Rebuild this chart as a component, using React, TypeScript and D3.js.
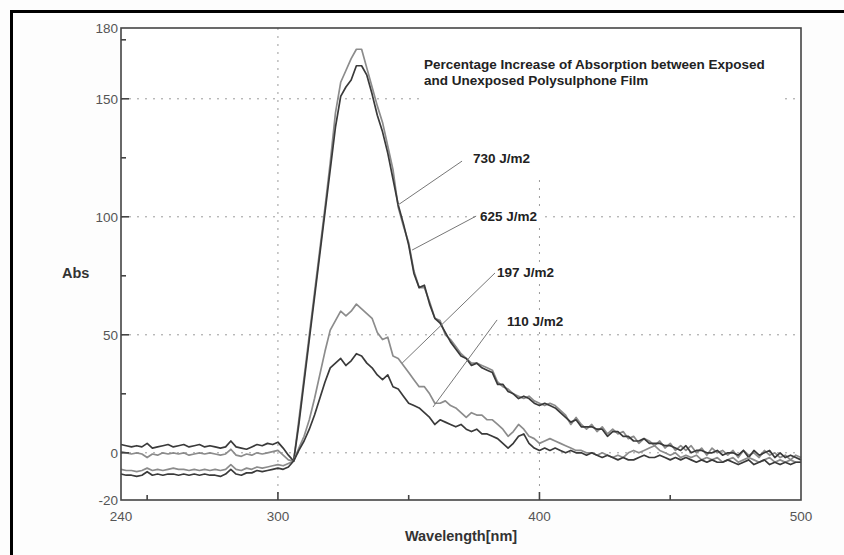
import React from "react";
import * as d3 from "d3";

// ---- data ----
const wavelengths: number[] = d3.range(240, 501, 2); // 131 points, 2 nm step

const series730: number[] = [
  0.5, 0, -0.5, 0, -0.5, -2, -0.5, -1, 0, -0.5, // 240-258
  0, -0.5, 0, -1, -0.5, 0, -0.5, 0, -0.5, -1, // 260-278
  -0.5, 1.5, -1, -1.5, -0.5, -1, 0, -0.5, 0, 0.5, // 280-298
  1, -1, -3, -3.5, 14, 32, 50, 68, 86, 104, // 300-318
  123, 144, 157, 162, 167, 171, 171, 163, 155, 147, // 320-338
  140, 130, 120, 104, 96, 89, 77, 70, 70, 64, // 340-358
  57, 56, 50, 48, 45, 42, 40, 38, 38, 37, // 360-378
  36, 35, 30, 28, 27, 25, 24, 23, 24, 22, // 380-398
  21, 20, 21, 20, 18, 16, 12, 15, 12, 10, // 400-418
  12, 9, 11, 8, 10, 8, 9, 6, 7, 4, // 420-438
  6, 5, 3, 5, 2, 4, 1, 3, 1, 3, // 440-458
  0, 2, -1, 2, 0, 1, -1, 1, -2, 1, // 460-478
  -1, 0, -2, 1, -1, 0, -2, -1, -3, -1, // 480-498
  -2, // 500
];

const series625: number[] = [
  3.5, 3, 2.5, 3, 2.5, 4, 2, 2.5, 3, 3.5,
  2.5, 3, 3.5, 2.5, 3, 3.5, 2.5, 3, 2.5, 2,
  2.5, 5, 2.5, 2, 1.5, 2.5, 3.5, 3, 4, 3.5,
  4.5, 2, -1, -3.5, 12, 30, 48, 66, 84, 102,
  120, 138, 151, 155, 158, 164, 164, 160, 152, 143,
  136, 127, 116, 105, 97, 88, 76, 70, 71, 63,
  57, 55, 51, 47, 44, 41, 40, 37, 38, 36,
  35, 34, 29, 29, 26, 25, 23, 24, 23, 21,
  20, 21, 20, 19, 17, 15, 13, 14, 11, 11,
  11, 10, 10, 7, 9, 9, 7, 7, 5, 5,
  6, 4, 4, 4, 3, 3, 2, 1, 3, 0,
  1, 1, 0, 0, 1, -1, 0, 0, -1, 1,
  -2, 1, -1, 0, 1, -2, 0, -2, -1, -2,
  -3,
];

const series197: number[] = [
  -7, -7.5, -7.5, -8, -7.5, -6.5, -7.5, -7, -7.5, -7,
  -6.5, -7, -7, -7.5, -7, -7.5, -7, -7.5, -7, -7.5,
  -7, -5, -7, -7.5, -6.5, -7, -6, -6.5, -6, -5.5,
  -5, -5.5, -4.5, -3.5, 2, 7, 14, 23, 33, 43,
  52, 56, 60, 58, 60, 63, 61, 59, 57, 51,
  48, 49, 41, 40, 37, 34, 31, 28, 28, 25,
  21, 21, 22, 20, 19, 17, 15, 17, 16, 16,
  14, 14, 12, 10, 7, 9, 12, 10, 7, 6,
  4, 5, 6, 5, 4, 3, 2, 1, 1, 0,
  0, -1, 0, -1, -2, -1, -2, 0, 1, 0,
  1, 2, 3, 1, 0, -1, 0, -2, -1, -2,
  -1, -3, -2, -3, -2, -4, -3, -2, -4, -3,
  -2, -3, -4, -3, -2, -4, -3, -4, -3, -4,
  -4,
];

const series110: number[] = [
  -9, -9.5, -9.5, -10, -9.5, -8, -9.5, -9, -9.5, -9,
  -9, -9.5, -9, -9.5, -9, -9.5, -9, -9.5, -9.5, -10,
  -9, -7, -9, -9.5, -8.5, -8.5, -7.5, -8, -7.5, -7,
  -6.5, -7, -6, -3.5, 1, 5, 10, 16, 23, 30,
  36, 38, 40, 37, 39, 42, 41, 38, 36, 33,
  31, 33, 28, 27, 24, 21, 20, 19, 17, 15,
  12, 14, 13, 12, 11, 12, 10, 9, 10, 8,
  8, 7, 6, 4, 2, 4, 7, 8, 4, 2,
  1, 2, 1, 2, 1, 0, 1, 0, 0, -1,
  0, -1, -2, -1, -2, -3, -2, -3, -3, -2,
  -1, -2, -2, -1, -2, -3, -2, -3, -2, -3,
  -4, -3, -4, -3, -4, -4, -3, -4, -5, -4,
  -3, -5, -4, -3, -5, -4, -5, -4, -5, -4,
  -4,
];

const seriesNames: string[] = ["730 J/m2", "625 J/m2", "197 J/m2", "110 J/m2"];
const seriesValues: number[][] = [series730, series625, series197, series110];
const seriesColors: string[] = ["#8c8c8c", "#3a3a3a", "#8c8c8c", "#3a3a3a"];

// label anchors in data coordinates: [textWavelength, textAbs, lineStartW, lineStartA, targetW, targetA]
const labelTextW: number[] = [374.6, 377.3, 383.8, 387.6];
const labelTextA: number[] = [122.7, 98.2, 74.5, 53.7];
const leaderStartW: number[] = [370.4, 375.8, 383.0, 383.8];
const leaderStartA: number[] = [123.6, 100.3, 76.2, 56.3];
const leaderEndW: number[] = [345.9, 351.3, 347.5, 359.3];
const leaderEndA: number[] = [105, 85.9, 38, 19.4];

const xTickLabels: number[] = [240, 300, 400, 500];
const xMajorTicks: number[] = [300, 400];
const xMinorTicks: number[] = [250, 350, 450];
const yTickLabels: number[] = [180, 150, 100, 50, 0, -20];
const yMajorTicks: number[] = [150, 100, 50, 0];
const yMinorTicks: number[] = [175, 125, 75, 25];
const gridX: number[] = [300, 400];
const gridY: number[] = [150, 100, 50, 0];

const titleLines: string[] = [
  "Percentage Increase of Absorption between Exposed",
  "and Unexposed Polysulphone Film",
];
const xTitle = "Wavelength[nm]";
const yTitle = "Abs";

// ---- layout ----
const W = 844;
const H = 555;
const left = 121;
const right = 801;
const top = 28;
const bottom = 500;

export default function App() {
  const x = d3.scaleLinear().domain([240, 500]).range([left, right]);
  const y = d3.scaleLinear().domain([-20, 180]).range([bottom, top]);
  const line = d3
    .line<number>()
    .x((_, i) => x(wavelengths[i]))
    .y((d) => y(d));

  const font = "'Liberation Sans', Arial, sans-serif";

  return (
    <svg
      width={W}
      height={H}
      viewBox={`0 0 ${W} ${H}`}
      style={{ position: "absolute", left: 0, top: 0, background: "#fff" }}
      fontFamily={font}
    >
      <rect x={0} y={0} width={W} height={H} fill="#fdfdfd" />
      {/* outer border (top & left) */}
      <path d={`M11.5,${H} L11.5,11.5 L${W},11.5`} fill="none" stroke="#000" strokeWidth={3} />

      {/* plot background */}
      <rect x={left} y={top} width={right - left} height={bottom - top} fill="#fff" />

      {/* grid */}
      {gridX.map((g) => (
        <line key={"gx" + g} x1={x(g)} x2={x(g)} y1={top} y2={bottom} stroke="#9a9a9a" strokeWidth={1} strokeDasharray="2,6" />
      ))}
      {gridY.map((g) => (
        <line key={"gy" + g} x1={left} x2={right} y1={y(g)} y2={y(g)} stroke="#9a9a9a" strokeWidth={1} strokeDasharray="2,6" />
      ))}

      {/* title box */}
      <rect x={421} y={top + 1} width={363} height={150} fill="#fff" />
      {titleLines.map((t, i) => (
        <text key={t} x={424} y={69 + i * 16} fontSize={13.5} fontWeight="bold" fill="#222">
          {t}
        </text>
      ))}

      {/* series */}
      {seriesValues.map((vals, i) => (
        <path
          key={seriesNames[i]}
          d={line(vals) || ""}
          fill="none"
          stroke={seriesColors[i]}
          strokeWidth={1.7}
          strokeLinejoin="round"
        />
      ))}

      {/* leader lines and labels */}
      {seriesNames.map((n, i) => (
        <g key={"lab" + n}>
          <line
            x1={x(leaderStartW[i])}
            y1={y(leaderStartA[i])}
            x2={x(leaderEndW[i])}
            y2={y(leaderEndA[i])}
            stroke="#777"
            strokeWidth={1}
          />
          <rect x={x(labelTextW[i]) - 2} y={y(labelTextA[i]) - 12} width={64} height={15} fill="#fff" />
          <text x={x(labelTextW[i])} y={y(labelTextA[i])} fontSize={13.5} fontWeight="bold" fill="#222">
            {n}
          </text>
        </g>
      ))}

      {/* frame */}
      <rect x={left} y={top} width={right - left} height={bottom - top} fill="none" stroke="#444" strokeWidth={1.6} />

      {/* ticks */}
      {xMajorTicks.map((t) => (
        <line key={"xM" + t} x1={x(t)} x2={x(t)} y1={bottom} y2={bottom - 8} stroke="#444" strokeWidth={1.6} />
      ))}
      {xMinorTicks.map((t) => (
        <line key={"xm" + t} x1={x(t)} x2={x(t)} y1={bottom} y2={bottom - 5} stroke="#444" strokeWidth={1.6} />
      ))}
      {yMajorTicks.map((t) => (
        <line key={"yM" + t} x1={left} x2={left + 8} y1={y(t)} y2={y(t)} stroke="#444" strokeWidth={1.6} />
      ))}
      {yMinorTicks.map((t) => (
        <line key={"ym" + t} x1={left} x2={left + 5} y1={y(t)} y2={y(t)} stroke="#444" strokeWidth={1.6} />
      ))}

      {/* tick labels */}
      {xTickLabels.map((t) => (
        <text key={"xl" + t} x={x(t)} y={521} textAnchor="middle" fontSize={13.5} fill="#555">
          {t}
        </text>
      ))}
      {yTickLabels.map((t) => (
        <text key={"yl" + t} x={left - 3} y={y(t)} dy="0.35em" textAnchor="end" fontSize={13.5} fill="#555">
          {t}
        </text>
      ))}

      {/* axis titles */}
      <text x={461} y={541} textAnchor="middle" fontSize={14.5} fontWeight="bold" fill="#333">
        {xTitle}
      </text>
      <text x={62} y={278} fontSize={14.5} fontWeight="bold" fill="#333">
        {yTitle}
      </text>
    </svg>
  );
}
